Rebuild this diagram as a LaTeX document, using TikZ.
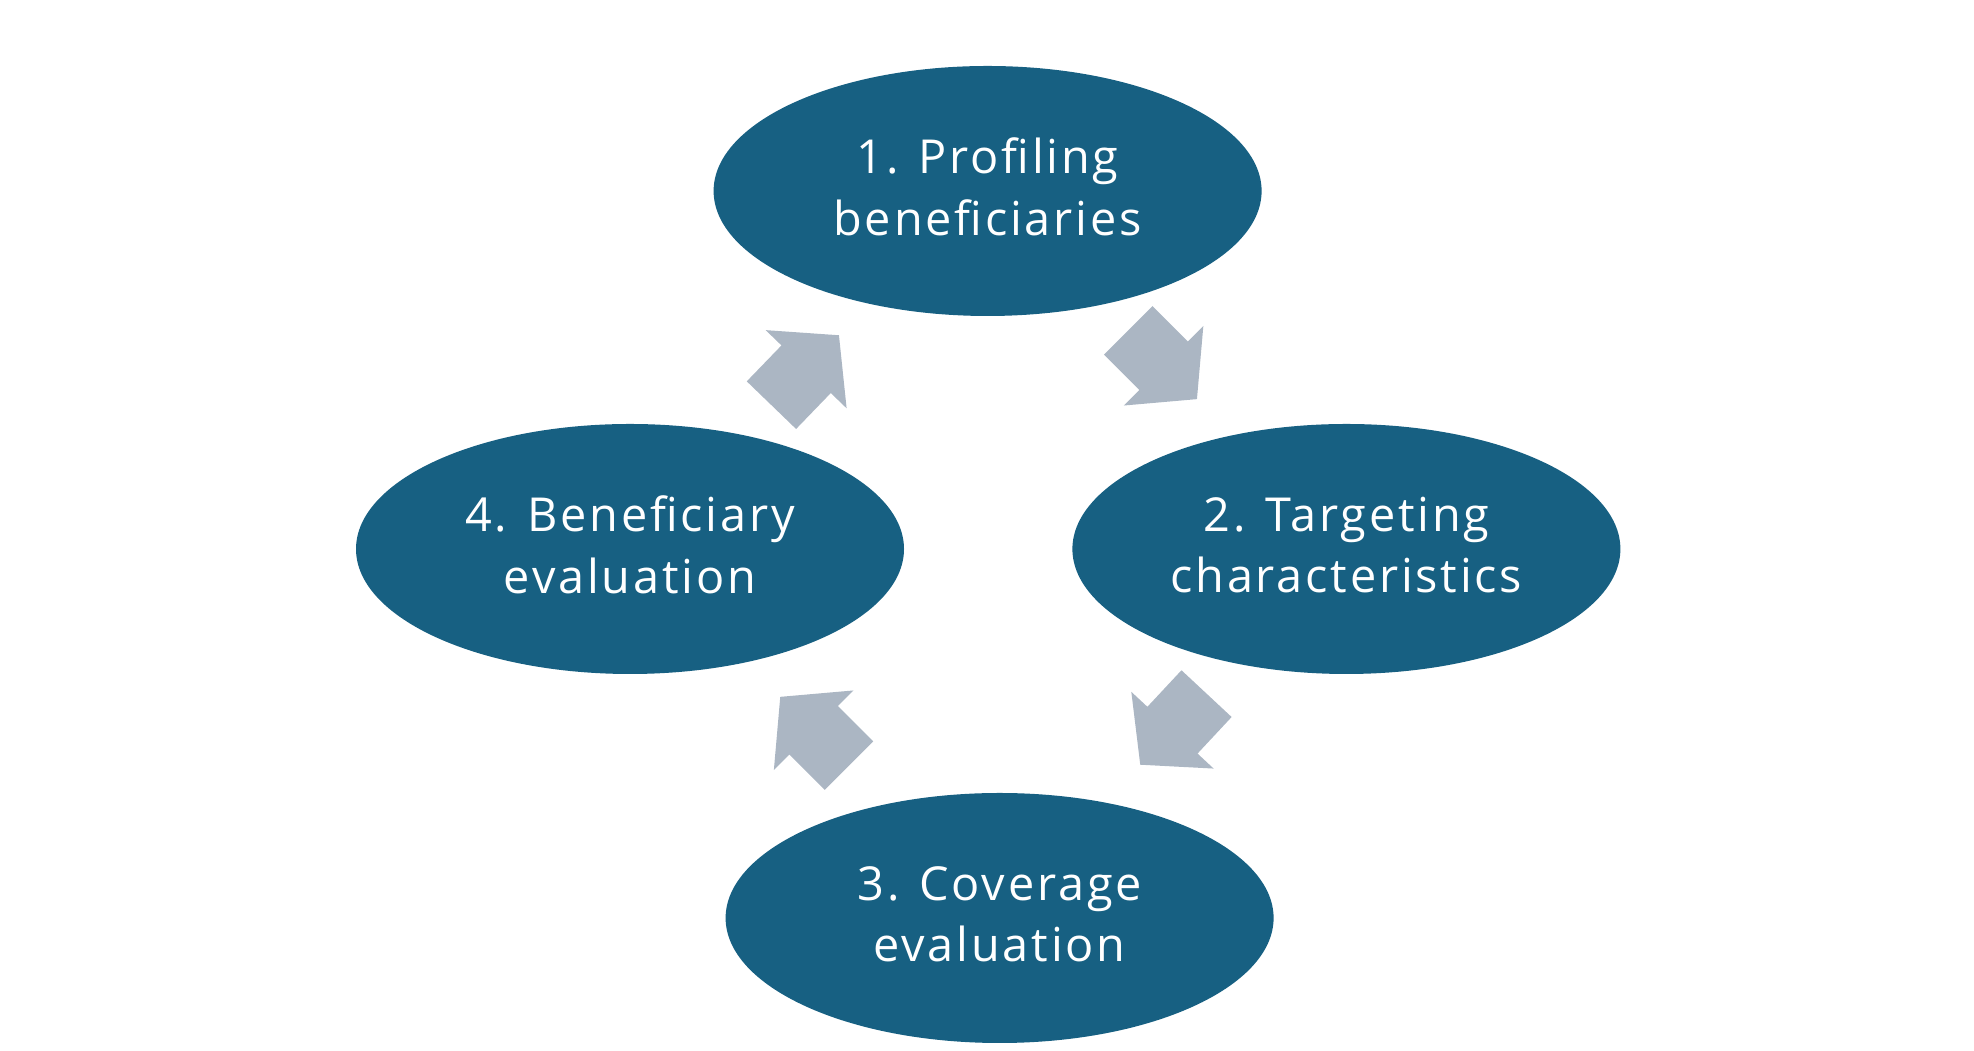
\documentclass[tikz,border=0pt]{standalone}
\usepackage{fontspec}
\setmainfont{Open Sans}[LetterSpace=6]
\usetikzlibrary{shapes.geometric}
\usetikzlibrary{shapes.arrows}

\definecolor{stagefill}{RGB}{23,96,130}
\definecolor{cyclegrey}{RGB}{171,182,195}

\tikzset{
	stage/.style={ellipse, fill=stagefill, text=white, inner sep=0pt,
		minimum width=13.7cm, minimum height=6.25cm, align=center,
		text depth=0.22cm, font=\fontsize{33.3}{43.4}\selectfont},
	cyclearrow/.style={single arrow, fill=cyclegrey, anchor=tip,
		inner xsep=0pt, inner ysep=0.85cm, minimum height=2.43cm,
		single arrow head extend=0.55cm, single arrow tip angle=100}
}

\begin{document}
\begin{tikzpicture}
	\useasboundingbox (0,0) rectangle (49.35,26.275);
	
	\node[stage] (profiling) at (24.69,21.5) {1. Profiling\\beneficiaries};
	\node[stage] (targeting) at (33.66,12.55) {2. Targeting\\characteristics};
	\node[stage] (coverage) at (24.99,3.325) {3. Coverage\\evaluation};
	\node[stage] (beneficiary) at (15.75,12.55) {4. Beneficiary\\evaluation};
	
	\node[cyclearrow, rotate=-45] (step12) at (29.93,16.29) {};
	\node[cyclearrow, rotate=-133] (step23) at (28.5,7.15) {};
	\node[cyclearrow, rotate=135] (step34) at (19.5,8.86) {};
	\node[cyclearrow, rotate=46] (step41) at (20.98,17.9) {};
\end{tikzpicture}
\end{document}
